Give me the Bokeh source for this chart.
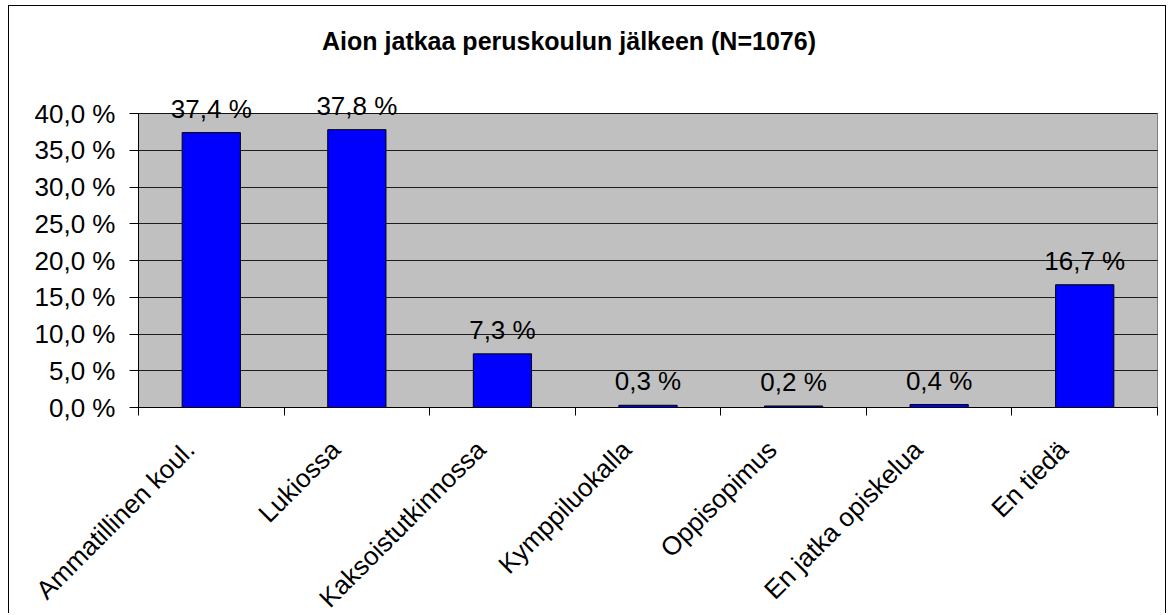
import math
from bokeh.plotting import figure
from bokeh.models import ColumnDataSource, LabelSet, Label, FixedTicker, Range1d
from bokeh.core.properties import value
from bokeh.embed import file_html
from bokeh.resources import INLINE

title_text = "Aion jatkaa peruskoulun jälkeen (N=1076)"
categories = ["Ammatillinen koul.", "Lukiossa", "Kaksoistutkinnossa", "Kymppiluokalla",
              "Oppisopimus", "En jatka opiskelua", "En tiedä"]
values = [37.4, 37.8, 7.3, 0.3, 0.2, 0.4, 16.7]
value_labels = ["37,4 %", "37,8 %", "7,3 %", "0,3 %", "0,2 %", "0,4 %", "16,7 %"]
y_ticks = [0, 5, 10, 15, 20, 25, 30, 35, 40]
y_tick_labels = ["0,0 %", "5,0 %", "10,0 %", "15,0 %", "20,0 %", "25,0 %", "30,0 %", "35,0 %", "40,0 %"]

FONT = "Liberation Sans"
n = len(categories)
centers = [i + 0.5 for i in range(n)]
ymax = y_ticks[-1]

# layout (pixels, canvas coordinates)
W, H = 1158, 608
area_left, area_right = 129, 1148
area_top, area_bottom = 107, 401
ppx = (area_right - area_left) / n
ppu = (area_bottom - area_top) / ymax
x_lo, x_hi = -area_left / ppx, n + (W - area_right) / ppx
y_lo, y_hi = -(H - area_bottom) / ppu, area_bottom / ppu

src = ColumnDataSource(dict(x=centers, top=values, lab=value_labels))
cat_src = ColumnDataSource(dict(x=centers, y=[0] * n, lab=categories))

p = figure(width=W, height=H, output_backend="svg", toolbar_location=None,
           x_range=Range1d(x_lo, x_hi), y_range=Range1d(y_lo, y_hi),
           min_border=0, min_border_left=0, min_border_right=0,
           min_border_top=0, min_border_bottom=0,
           background_fill_color="white", border_fill_color="white")
p.styles = {"margin-left": "8px", "margin-top": "5px",
            "border-left": "1px solid black", "border-right": "1px solid black",
            "border-top": "1px solid black"}
p.outline_line_color = None

# grey plot area
p.quad(left=0, right=n, bottom=0, top=ymax, fill_color="#C0C0C0",
       line_color="#808080", line_width=1, level="image")

p.vbar(x="x", top="top", width=0.4, bottom=0, source=src,
       fill_color="#0000FF", line_color="black", line_width=1)

labels = LabelSet(x="x", y="top", text="lab", source=src, y_offset=15,
                  text_align="center", text_baseline="alphabetic",
                  text_font=value(FONT), text_font_size="26px", text_color="black")
p.add_layout(labels)

cat_labels = LabelSet(x="x", y="y", text="lab", source=cat_src, angle=math.pi / 4,
                      x_offset=-15, y_offset=-44,
                      text_align="right", text_baseline="alphabetic",
                      text_font=value(FONT), text_font_size="26px", text_color="black")
p.add_layout(cat_labels)

title = Label(x=n / 2, y=ymax, x_offset=-79, y_offset=73, text=title_text,
              text_align="center", text_baseline="alphabetic",
              text_font=FONT, text_font_size="25px", text_font_style="bold",
              text_color="black")
p.add_layout(title)

# x axis (drawn at value 0, inside the frame)
p.xaxis.fixed_location = 0
p.xaxis.bounds = (0, n)
p.xaxis.ticker = FixedTicker(ticks=[], minor_ticks=list(range(n + 1)))
p.xaxis.major_tick_line_color = None
p.xaxis.minor_tick_out = 8
p.xaxis.minor_tick_in = 0
p.xaxis.minor_tick_line_color = "black"
p.xaxis.axis_line_color = "black"

# y axis (drawn at x = 0, inside the frame)
p.yaxis.fixed_location = 0
p.yaxis.ticker = FixedTicker(ticks=y_ticks)
p.yaxis.bounds = (0, ymax)
p.yaxis.major_label_overrides = {t: l for t, l in zip(y_ticks, y_tick_labels)}
p.yaxis.major_tick_out = 9
p.yaxis.major_tick_in = 0
p.yaxis.minor_tick_line_color = None
p.yaxis.axis_line_color = "black"
p.yaxis.major_tick_line_color = "black"
p.yaxis.major_label_text_font = FONT
p.yaxis.major_label_text_font_size = "26px"
p.yaxis.major_label_text_color = "black"
p.yaxis.major_label_standoff = 14

p.xgrid.grid_line_color = None
p.ygrid.grid_line_color = "black"
p.ygrid.grid_line_alpha = 0.85
p.ygrid.cross_bounds = (0, n)

open("out.html", "w").write(file_html(p, INLINE))
